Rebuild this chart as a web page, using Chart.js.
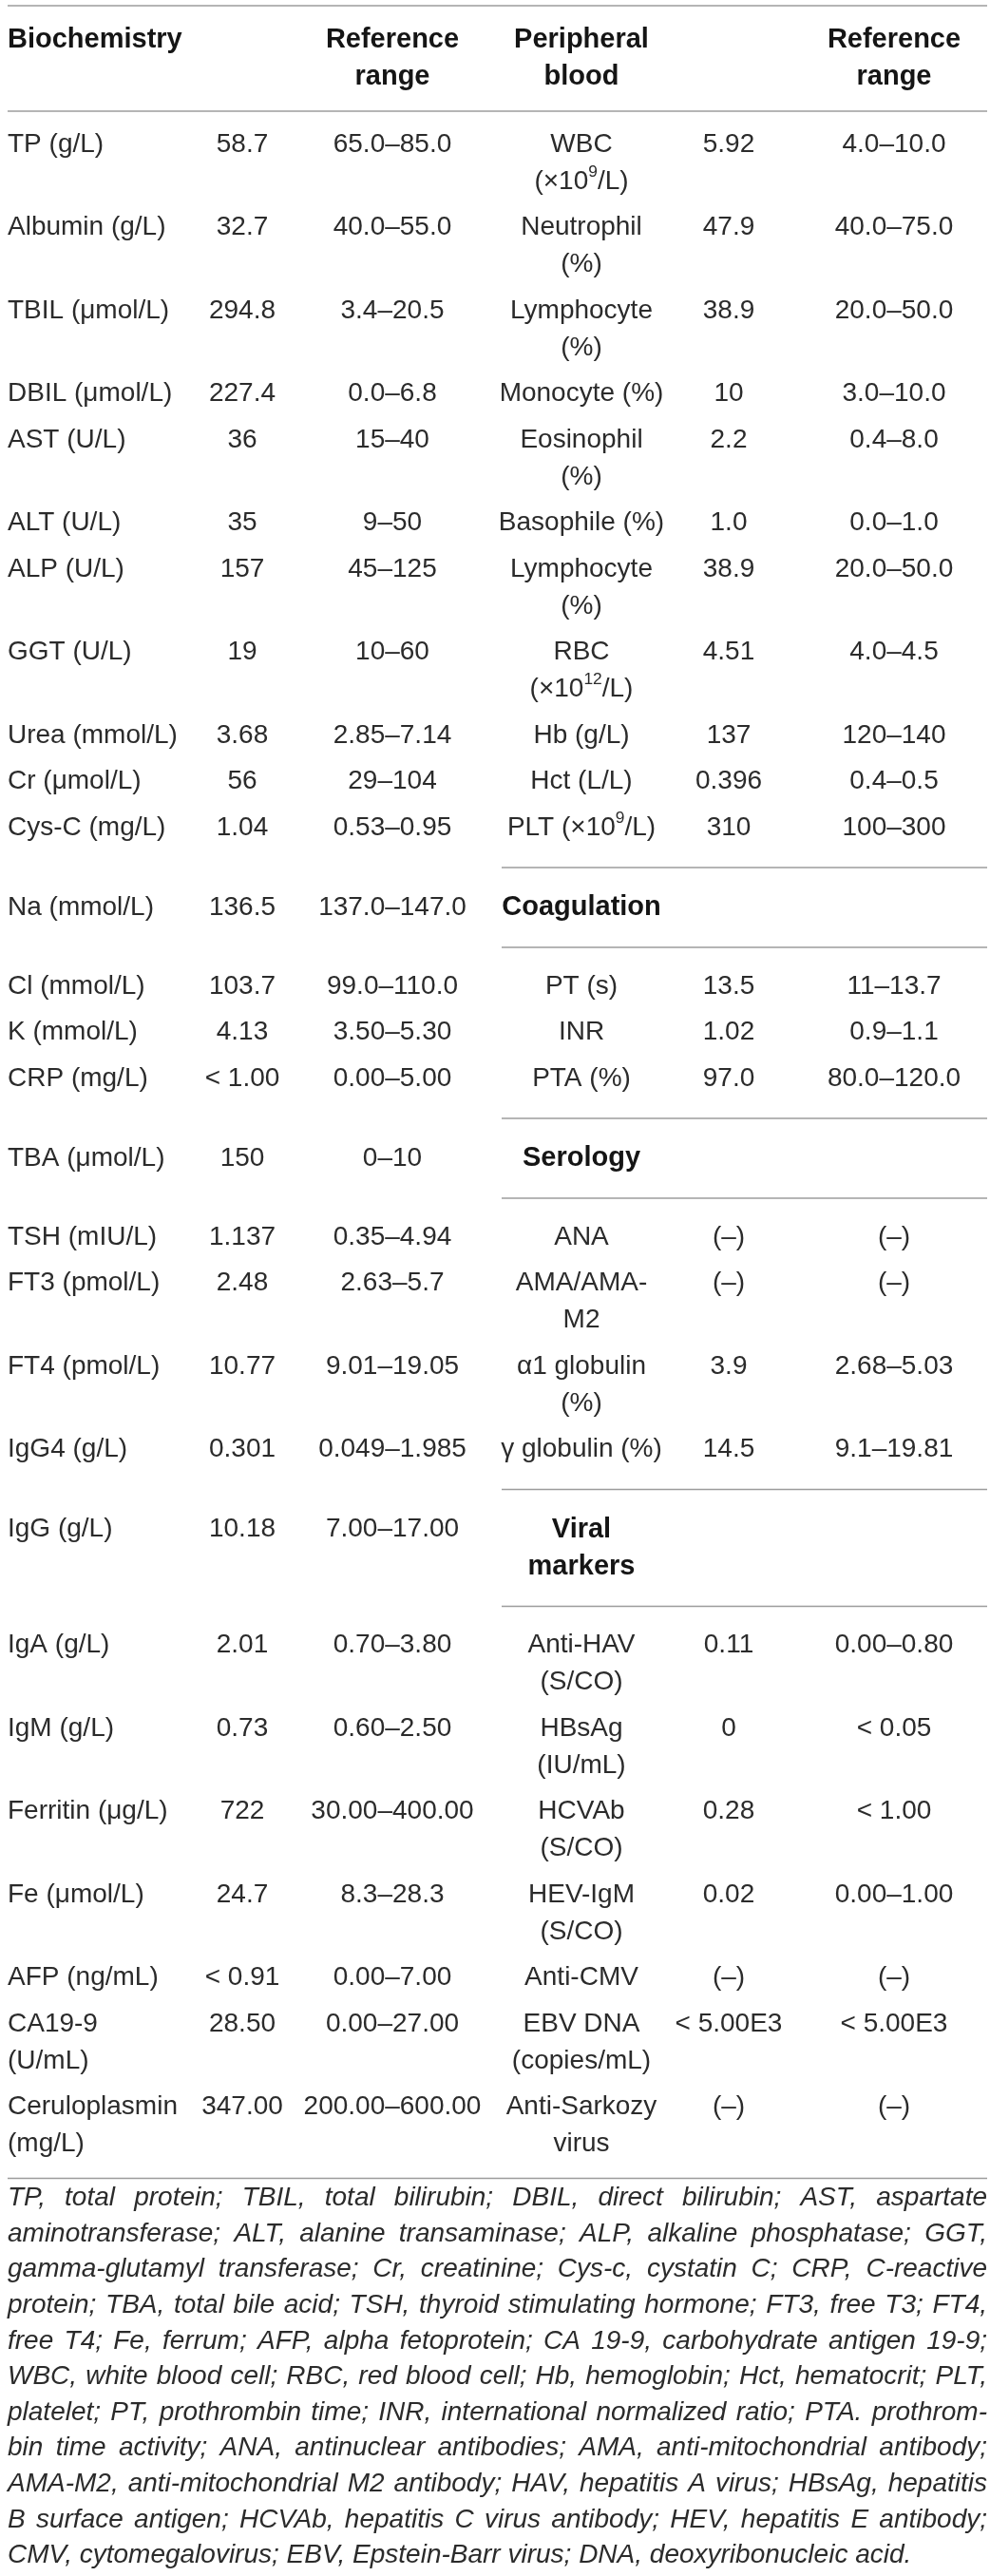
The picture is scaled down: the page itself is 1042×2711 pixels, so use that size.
<!DOCTYPE html>
<html>
<head>
<meta charset="utf-8">
<script src="https://cdn.jsdelivr.net/npm/chart.js@4.4.1/dist/chart.umd.min.js"></script>
<style>
html,body{margin:0;padding:0;background:#ffffff;}
#wrap{width:1042px;height:2711px;position:relative;overflow:hidden;}
canvas{display:block;}
</style>
</head>
<body>
<div id="wrap"><canvas id="c" width="1042" height="2711"></canvas></div>
<script>
// ---------- DATA ----------
const headerRow = ['Biochemistry', '', 'Reference\nrange', 'Peripheral\nblood', '', 'Reference\nrange'];

const bioNames = ['TP (g/L)', 'Albumin (g/L)', 'TBIL (\u03bcmol/L)', 'DBIL (\u03bcmol/L)', 'AST (U/L)', 'ALT (U/L)',
  'ALP (U/L)', 'GGT (U/L)', 'Urea (mmol/L)', 'Cr (\u03bcmol/L)', 'Cys-C (mg/L)', 'Na (mmol/L)', 'Cl (mmol/L)',
  'K (mmol/L)', 'CRP (mg/L)', 'TBA (\u03bcmol/L)', 'TSH (mIU/L)', 'FT3 (pmol/L)', 'FT4 (pmol/L)', 'IgG4 (g/L)',
  'IgG (g/L)', 'IgA (g/L)', 'IgM (g/L)', 'Ferritin (\u03bcg/L)', 'Fe (\u03bcmol/L)', 'AFP (ng/mL)', 'CA19-9\n(U/mL)',
  'Ceruloplasmin\n(mg/L)'];
const bioValues = ['58.7', '32.7', '294.8', '227.4', '36', '35', '157', '19', '3.68', '56', '1.04', '136.5', '103.7',
  '4.13', '< 1.00', '150', '1.137', '2.48', '10.77', '0.301', '10.18', '2.01', '0.73', '722', '24.7', '< 0.91',
  '28.50', '347.00'];
const bioRanges = ['65.0\u201385.0', '40.0\u201355.0', '3.4\u201320.5', '0.0\u20136.8', '15\u201340', '9\u201350',
  '45\u2013125', '10\u201360', '2.85\u20137.14', '29\u2013104', '0.53\u20130.95', '137.0\u2013147.0', '99.0\u2013110.0',
  '3.50\u20135.30', '0.00\u20135.00', '0\u201310', '0.35\u20134.94', '2.63\u20135.7', '9.01\u201319.05',
  '0.049\u20131.985', '7.00\u201317.00', '0.70\u20133.80', '0.60\u20132.50', '30.00\u2013400.00', '8.3\u201328.3',
  '0.00\u20137.00', '0.00\u201327.00', '200.00\u2013600.00'];

const sectionHeaders = ['Coagulation', 'Serology', 'Viral\nmarkers'];

const periNames = ['WBC\n(\u00d710^{9}/L)', 'Neutrophil\n(%)', 'Lymphocyte\n(%)', 'Monocyte (%)', 'Eosinophil\n(%)',
  'Basophile (%)', 'Lymphocyte\n(%)', 'RBC\n(\u00d710^{12}/L)', 'Hb (g/L)', 'Hct (L/L)', 'PLT (\u00d710^{9}/L)',
  'Coagulation', 'PT (s)', 'INR', 'PTA (%)', 'Serology', 'ANA', 'AMA/AMA-\nM2', '\u03b11 globulin\n(%)',
  '\u03b3 globulin (%)', 'Viral\nmarkers', 'Anti-HAV\n(S/CO)', 'HBsAg\n(IU/mL)', 'HCVAb\n(S/CO)', 'HEV-IgM\n(S/CO)',
  'Anti-CMV', 'EBV DNA\n(copies/mL)', 'Anti-Sarkozy\nvirus'];
const periValues = ['5.92', '47.9', '38.9', '10', '2.2', '1.0', '38.9', '4.51', '137', '0.396', '310', '', '13.5',
  '1.02', '97.0', '', '(\u2013)', '(\u2013)', '3.9', '14.5', '', '0.11', '0', '0.28', '0.02', '(\u2013)',
  '< 5.00E3', '(\u2013)'];
const periRanges = ['4.0\u201310.0', '40.0\u201375.0', '20.0\u201350.0', '3.0\u201310.0', '0.4\u20138.0',
  '0.0\u20131.0', '20.0\u201350.0', '4.0\u20134.5', '120\u2013140', '0.4\u20130.5', '100\u2013300', '', '11\u201313.7',
  '0.9\u20131.1', '80.0\u2013120.0', '', '(\u2013)', '(\u2013)', '2.68\u20135.03', '9.1\u201319.81', '', '0.00\u20130.80',
  '< 0.05', '< 1.00', '0.00\u20131.00', '(\u2013)', '< 5.00E3', '(\u2013)'];

const footnoteLines = [
  'TP, total protein; TBIL, total bilirubin; DBIL, direct bilirubin; AST, aspartate',
  'aminotransferase; ALT, alanine transaminase; ALP, alkaline phosphatase; GGT,',
  'gamma-glutamyl transferase; Cr, creatinine; Cys-c, cystatin C; CRP, C-reactive',
  'protein; TBA, total bile acid; TSH, thyroid stimulating hormone; FT3, free T3; FT4,',
  'free T4; Fe, ferrum; AFP, alpha fetoprotein; CA 19-9, carbohydrate antigen 19-9;',
  'WBC, white blood cell; RBC, red blood cell; Hb, hemoglobin; Hct, hematocrit; PLT,',
  'platelet; PT, prothrombin time; INR, international normalized ratio; PTA. prothrom-',
  'bin time activity; ANA, antinuclear antibodies; AMA, anti-mitochondrial antibody;',
  'AMA-M2, anti-mitochondrial M2 antibody; HAV, hepatitis A virus; HBsAg, hepatitis',
  'B surface antigen; HCVAb, hepatitis C virus antibody; HEV, hepatitis E antibody;',
  'CMV, cytomegalovirus; EBV, Epstein-Barr virus; DNA, deoxyribonucleic acid.'
];

// ---------- LAYOUT / STYLE (not data) ----------
const W = 1042, H = 2711;
const FAMILY = '"Liberation Sans", Arial, Helvetica, sans-serif';
const FS = 28, FSB = 29, FSN = 28;
const TEXT = '#2b2b2b', BOLDTXT = '#151515', RULE = '#9c9c9c';
const colX = [8, 255, 413, 612, 767, 941];
const colAlign = ['left', 'center', 'center', 'center', 'center', 'center'];
const LEFT = 8, RIGHT = 1039, SECT_LEFT = 528;
const LINE = 39, PITCH = 48.5;

function drawRich(ctx, text, x, y, align, size, weight) {
  const parts = text.split(/\^\{([^}]*)\}/);
  const segs = [];
  parts.forEach((p, i) => { if (p.length) segs.push({ t: p, sup: i % 2 === 1 }); });
  const fontFor = s => (weight + ' ' + (s.sup ? size * 0.62 : size) + 'px ' + FAMILY);
  let total = 0;
  segs.forEach(s => { ctx.font = fontFor(s); s.w = ctx.measureText(s.t).width; total += s.w; });
  let cx = x;
  if (align === 'center') cx = x - total / 2;
  else if (align === 'right') cx = x - total;
  ctx.textAlign = 'left';
  segs.forEach(s => {
    ctx.font = fontFor(s);
    ctx.fillText(s.t, cx, s.sup ? y - size * 0.36 : y);
    cx += s.w;
  });
}

const tablePlugin = {
  id: 'tablePlugin',
  afterDraw(chart) {
    const ctx = chart.ctx;
    const xs = chart.scales.x, ys = chart.scales.y;
    const px = v => xs.getPixelForValue(v);
    const py = v => ys.getPixelForValue(v);
    ctx.save();
    ctx.textBaseline = 'middle';

    const rules = [];
    const rule = (x1, x2, y) => rules.push([x1, x2, y]);

    const drawCell = (text, col, y, bold) => {
      if (!text) return 0;
      const lines = text.split('\n');
      ctx.fillStyle = bold ? BOLDTXT : TEXT;
      lines.forEach((ln, k) => {
        drawRich(ctx, ln, px(colX[col]), py(y + k * LINE), colAlign[col], bold ? FSB : FS, bold ? 'bold' : 'normal');
      });
      return lines.length;
    };

    // header
    rule(LEFT, RIGHT, 6);
    headerRow.forEach((h, c) => drawCell(h, c, 42, true));
    rule(LEFT, RIGHT, 117);

    // body
    let y = 152;
    let last = y;
    for (let i = 0; i < bioNames.length; i++) {
      const isSection = sectionHeaders.includes(periNames[i]);
      if (isSection) {
        const r1 = last + 42;
        rule(SECT_LEFT, RIGHT, r1);
        y = r1 + 42;
        let n = 1;
        [bioNames[i], bioValues[i], bioRanges[i]].forEach((t, c) => { n = Math.max(n, drawCell(t, c, y, false)); });
        n = Math.max(n, drawCell(periNames[i], 3, y, true));
        last = y + (n - 1) * LINE;
        const r2 = last + 42;
        rule(SECT_LEFT, RIGHT, r2);
        y = r2 + 41;
      } else {
        const cells = [bioNames[i], bioValues[i], bioRanges[i], periNames[i], periValues[i], periRanges[i]];
        let n = 1;
        cells.forEach((t, c) => { n = Math.max(n, drawCell(t, c, y, false)); });
        last = y + (n - 1) * LINE;
        y = last + PITCH;
      }
    }
    const bottomRule = last + 36;
    rule(LEFT, RIGHT, bottomRule);

    // rules
    ctx.strokeStyle = RULE;
    ctx.lineWidth = 1.6;
    rules.forEach(([x1, x2, yy]) => {
      ctx.beginPath();
      ctx.moveTo(px(x1), py(yy));
      ctx.lineTo(px(x2), py(yy));
      ctx.stroke();
    });

    // footnote (justified italic)
    ctx.fillStyle = TEXT;
    ctx.font = 'italic ' + FSN + 'px ' + FAMILY;
    ctx.textAlign = 'left';
    const fy0 = bottomRule + 21, fstep = 37.6;
    footnoteLines.forEach((ln, k) => {
      const yy = py(fy0 + k * fstep);
      const words = ln.split(' ');
      const widths = words.map(w => ctx.measureText(w).width);
      const sum = widths.reduce((a, b) => a + b, 0);
      const avail = px(RIGHT) - px(LEFT);
      let gap = ctx.measureText(' ').width;
      const lastLine = k === footnoteLines.length - 1;
      if (!lastLine && words.length > 1) gap = (avail - sum) / (words.length - 1);
      let cx = px(LEFT);
      words.forEach((w, j) => { ctx.fillText(w, cx, yy); cx += widths[j] + gap; });
    });
    ctx.restore();
  }
};

new Chart(document.getElementById('c'), {
  type: 'scatter',
  data: { datasets: [{ data: [], pointRadius: 0 }] },
  options: {
    responsive: false,
    animation: false,
    layout: { padding: 0 },
    plugins: { legend: { display: false }, tooltip: { enabled: false }, title: { display: false } },
    scales: {
      x: { type: 'linear', min: 0, max: W, display: false },
      y: { type: 'linear', min: 0, max: H, reverse: true, display: false }
    }
  },
  plugins: [tablePlugin]
});
</script>
</body>
</html>
